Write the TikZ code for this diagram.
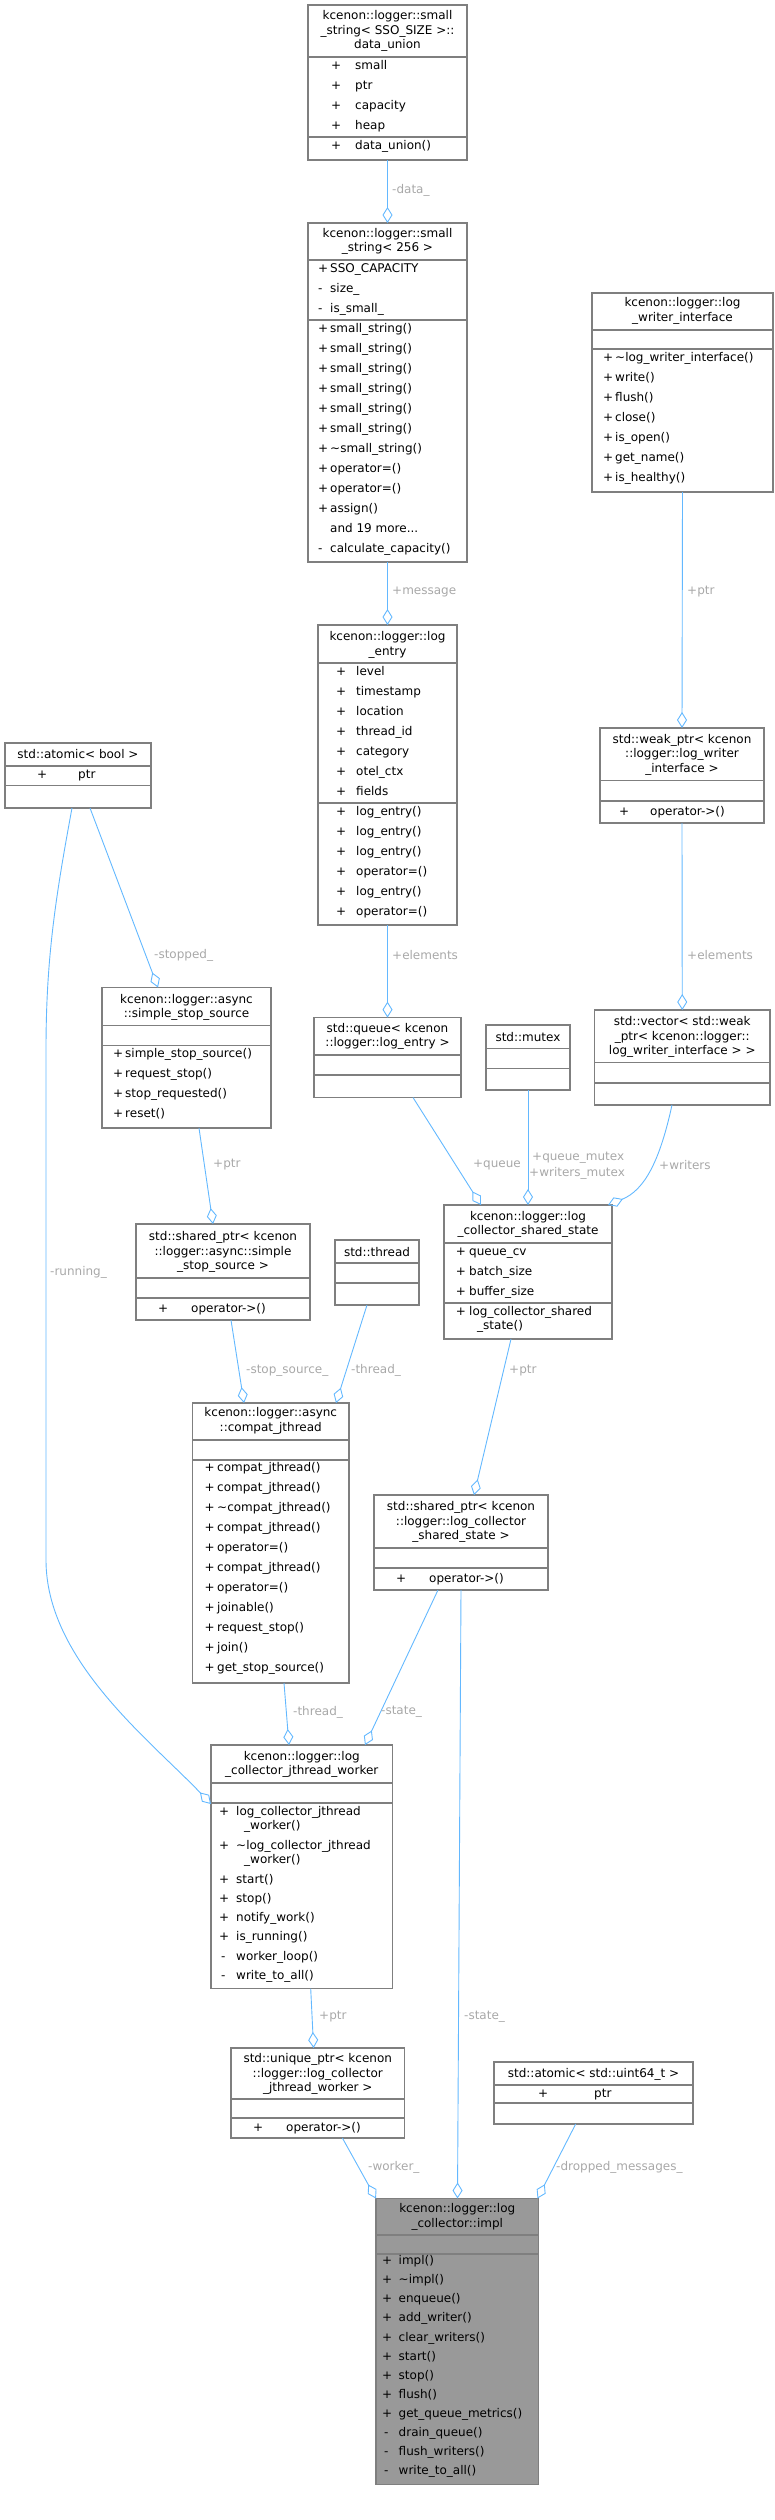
\documentclass[tikz,border=0pt]{standalone}
\usepackage{fontspec}
\setmainfont{DejaVu Sans}
\usetikzlibrary{arrows.meta}
\definecolor{edgec}{HTML}{63B8FF}
\definecolor{labc}{HTML}{A8A8A8}
\definecolor{boxc}{HTML}{7F7F7F}
\newcounter{mc}
\newcommand\fnt{\fontsize{12}{14.5}\selectfont}
\newcommand\bx[6]{\node[box,fill=#6,anchor=north west,minimum width={#4pt-#2pt},minimum height={#5pt-#3pt}] (#1) at (#2,#3) {};}
\newcommand\hs[3]{\draw[boxl] (#1,#3) -- (#2,#3);}
\newcommand\mem[5]{\stepcounter{mc}\node[t] (p\themc) at (#1,#3) {#4};\node[t] (m\themc) at (#2,#3) {#5};}
\newcommand\ttl[4]{\node[ti] (#1) at (#2,#3) {#4};}
\begin{document}
\begin{tikzpicture}[x=1pt,y=-1pt,
 box/.style={draw=boxc,line width=1.1pt,inner sep=0pt,outer sep=0pt},
 boxl/.style={draw=boxc,line width=1.1pt},
 t/.style={anchor=west,inner sep=0pt,font=\fnt,text height=8.5pt,text depth=2.5pt},
 ti/.style={align=center,inner sep=0pt,font=\fnt},
 edge/.style={draw=edgec,line width=0.9pt,-{Diamond[open,length=16pt,width=10pt]}},
 lab/.style={anchor=west,inner sep=0pt,font=\fnt,text=labc}]
\useasboundingbox (0,0) rectangle (775,2520);
% A
\bx{A}{308}{5}{467}{160}{white}
\ttl{Aт}{387.5}{31}{kcenon::logger::small\\\_string< SSO\_SIZE >::\\data\_union}
\hs{308}{467}{57}\hs{308}{467}{137}
\mem{331}{355}{66}{+}{small}\mem{331}{355}{86}{+}{ptr}\mem{331}{355}{106}{+}{capacity}\mem{331}{355}{126}{+}{heap}
\mem{331}{355}{146}{+}{data\_union()}
% B
\bx{B}{308}{223}{467}{562}{white}
\ttl{Bt}{387.5}{241.5}{kcenon::logger::small\\\_string< 256 >}
\hs{308}{467}{260}\hs{308}{467}{320}
\mem{318}{330}{269.5}{+}{SSO\_CAPACITY}\mem{318}{330}{289}{-}{size\_}\mem{318}{330}{309}{-}{is\_small\_}
\mem{318}{330}{329}{+}{small\_string()}\mem{318}{330}{349}{+}{small\_string()}\mem{318}{330}{369}{+}{small\_string()}
\mem{318}{330}{389}{+}{small\_string()}\mem{318}{330}{409}{+}{small\_string()}\mem{318}{330}{429}{+}{small\_string()}
\mem{318}{330}{449}{+}{\textasciitilde small\_string()}\mem{318}{330}{469}{+}{operator=()}\mem{318}{330}{489}{+}{operator=()}
\mem{318}{330}{509}{+}{assign()}\mem{318}{330}{529}{}{and 19 more...}\mem{318}{330}{549}{-}{calculate\_capacity()}
% C
\bx{C}{592}{293}{773}{492}{white}
\ttl{Ct}{682.5}{311}{kcenon::logger::log\\\_writer\_interface}
\hs{592}{773}{330}\hs{592}{773}{349}
\mem{603}{615}{358}{+}{\textasciitilde log\_writer\_interface()}\mem{603}{615}{378}{+}{write()}\mem{603}{615}{398}{+}{flush()}
\mem{603}{615}{418}{+}{close()}\mem{603}{615}{438}{+}{is\_open()}\mem{603}{615}{458}{+}{get\_name()}\mem{603}{615}{478}{+}{is\_healthy()}
% D
\bx{D}{318}{625}{457}{925}{white}
\ttl{Dt}{387.5}{645}{kcenon::logger::log\\\_entry}
\hs{318}{457}{663}\hs{318}{457}{803}
\mem{336}{356}{672}{+}{level}\mem{336}{356}{692}{+}{timestamp}\mem{336}{356}{712}{+}{location}\mem{336}{356}{732}{+}{thread\_id}
\mem{336}{356}{752}{+}{category}\mem{336}{356}{772}{+}{otel\_ctx}\mem{336}{356}{792}{+}{fields}
\mem{336}{356}{812}{+}{log\_entry()}\mem{336}{356}{832}{+}{log\_entry()}\mem{336}{356}{852}{+}{log\_entry()}
\mem{336}{356}{872}{+}{operator=()}\mem{336}{356}{892}{+}{log\_entry()}\mem{336}{356}{912}{+}{operator=()}
% E
\bx{E}{5}{743}{151}{808}{white}
\ttl{Et}{78}{754.5}{std::atomic< bool >}
\hs{5}{151}{766}\hs{5}{151}{785.5}
\mem{37}{78}{775.5}{+}{ptr}
% F
\bx{F}{600}{728}{764}{823}{white}
\ttl{Ft}{682}{754.5}{std::weak\_ptr< kcenon\\::logger::log\_writer\\\_interface >}
\hs{600}{764}{780.5}\hs{600}{764}{801}
\mem{619}{650}{812}{+}{operator->()}
% G
\bx{G}{102}{987.5}{271}{1128}{white}
\ttl{Gt}{186.5}{1007.5}{kcenon::logger::async\\::simple\_stop\_source}
\hs{102}{271}{1025.6}\hs{102}{271}{1045.7}
\mem{113}{125}{1054.5}{+}{simple\_stop\_source()}\mem{113}{125}{1074.6}{+}{request\_stop()}
\mem{113}{125}{1094.7}{+}{stop\_requested()}\mem{113}{125}{1114.4}{+}{reset()}
% H
\bx{H}{314}{1017.6}{461}{1097.5}{white}
\ttl{Ht}{387.5}{1036.5}{std::queue< kcenon\\::logger::log\_entry >}
\hs{314}{461}{1055}\hs{314}{461}{1075}
% I
\bx{I}{486}{1025}{570}{1090}{white}
\ttl{It}{528}{1037}{std::mutex}
\hs{486}{570}{1048.5}\hs{486}{570}{1068.6}
% J
\bx{J}{594.5}{1010}{770}{1105}{white}
\ttl{Jt}{682.25}{1037}{std::vector< std::weak\\\_ptr< kcenon::logger::\\log\_writer\_interface > >}
\hs{594.5}{770}{1062.6}\hs{594.5}{770}{1083}
% K
\bx{K}{444}{1205}{612}{1339}{white}
\ttl{Kt}{528}{1224.5}{kcenon::logger::log\\\_collector\_shared\_state}
\hs{444}{612}{1243}\hs{444}{612}{1303}
\mem{455.6}{469}{1252}{+}{queue\_cv}\mem{455.6}{469}{1272}{+}{batch\_size}\mem{455.6}{469}{1292}{+}{buffer\_size}
\mem{455.6}{469}{1312}{+}{log\_collector\_shared}\mem{455.6}{477}{1326}{}{\_state()}
% L
\bx{L}{136}{1224}{310}{1320}{white}
\ttl{Lt}{223}{1252}{std::shared\_ptr< kcenon\\::logger::async::simple\\\_stop\_source >}
\hs{136}{310}{1278}\hs{136}{310}{1298}
\mem{158}{191}{1309}{+}{operator->()}
% M
\bx{M}{335}{1240}{419}{1305}{white}
\ttl{Mt}{377}{1252}{std::thread}
\hs{335}{419}{1263}\hs{335}{419}{1283}
% N
\bx{N}{192.5}{1403}{349}{1683}{white}
\ttl{Nt}{270.75}{1421}{kcenon::logger::async\\::compat\_jthread}
\hs{192.5}{349}{1440}\hs{192.5}{349}{1460}
\mem{204.5}{217}{1468.5}{+}{compat\_jthread()}\mem{204.5}{217}{1488.5}{+}{compat\_jthread()}
\mem{204.5}{217}{1508.5}{+}{\textasciitilde compat\_jthread()}\mem{204.5}{217}{1528.5}{+}{compat\_jthread()}
\mem{204.5}{217}{1548.5}{+}{operator=()}\mem{204.5}{217}{1568.5}{+}{compat\_jthread()}
\mem{204.5}{217}{1588.5}{+}{operator=()}\mem{204.5}{217}{1608.5}{+}{joinable()}
\mem{204.5}{217}{1628.5}{+}{request\_stop()}\mem{204.5}{217}{1648.5}{+}{join()}\mem{204.5}{217}{1668.5}{+}{get\_stop\_source()}
% O
\bx{O}{374}{1495}{548}{1590}{white}
\ttl{Ot}{461}{1522}{std::shared\_ptr< kcenon\\::logger::log\_collector\\\_shared\_state >}
\hs{374}{548}{1548}\hs{374}{548}{1568}
\mem{396}{429}{1579}{+}{operator->()}
% P
\bx{P}{211}{1745}{392.5}{1988.5}{white}
\ttl{Pt}{301.75}{1764.5}{kcenon::logger::log\\\_collector\_jthread\_worker}
\hs{211}{392.5}{1783}\hs{211}{392.5}{1803}
\mem{219}{236}{1812}{+}{log\_collector\_jthread}\mem{219}{244}{1826}{}{\_worker()}
\mem{219}{236}{1846}{+}{\textasciitilde log\_collector\_jthread}\mem{219}{244}{1860.5}{}{\_worker()}
\mem{219}{236}{1880}{+}{start()}\mem{219}{236}{1899}{+}{stop()}\mem{219}{236}{1918}{+}{notify\_work()}
\mem{219}{236}{1937.5}{+}{is\_running()}\mem{221}{236}{1957}{-}{worker\_loop()}\mem{221}{236}{1976}{-}{write\_to\_all()}
% Q
\bx{Q}{231}{2048}{404.5}{2138}{white}
\ttl{Qt}{317.75}{2074}{std::unique\_ptr< kcenon\\::logger::log\_collector\\\_jthread\_worker >}
\hs{231}{404.5}{2099}\hs{231}{404.5}{2118}
\mem{253}{286}{2128.5}{+}{operator->()}
% R
\bx{R}{494}{2062}{693}{2124}{white}
\ttl{Rt}{593.5}{2074}{std::atomic< std::uint64\_t >}
\hs{494}{693}{2085}\hs{494}{693}{2103}
\mem{538}{594}{2094}{+}{ptr}
% S
\bx{S}{376}{2198.5}{538.5}{2484.5}{black!40}
\ttl{St}{457.25}{2217}{kcenon::logger::log\\\_collector::impl}
\hs{376}{538.5}{2235}\hs{376}{538.5}{2254}
\mem{382}{398.5}{2261.6}{+}{impl()}\mem{382}{398.5}{2280.7}{+}{\textasciitilde impl()}\mem{382}{398.5}{2299.8}{+}{enqueue()}
\mem{382}{398.5}{2318.9}{+}{add\_writer()}\mem{382}{398.5}{2338}{+}{clear\_writers()}\mem{382}{398.5}{2357.1}{+}{start()}
\mem{382}{398.5}{2376.2}{+}{stop()}\mem{382}{398.5}{2395.3}{+}{flush()}\mem{382}{398.5}{2414.4}{+}{get\_queue\_metrics()}
\mem{384}{398.5}{2433.5}{-}{drain\_queue()}\mem{384}{398.5}{2452.6}{-}{flush\_writers()}\mem{384}{398.5}{2471.7}{-}{write\_to\_all()}
% edges
\draw[edge] (A.south) -- (B.north);
\node[lab] (l1) at (392,190) {-data\_};
\draw[edge] (B.south) -- (D.north);
\node[lab] (l2) at (392,592) {+message};
\draw[edge] (C.south) -- (F.north);
\node[lab] (l3) at (687,592) {+ptr};
\draw[edge] (D.south) -- (H.north);
\node[lab] (l4) at (392,955) {+elements};
\draw[edge] (F.south) -- (J.north);
\node[lab] (l5) at (687,955) {+elements};
\draw[edge] ([xshift=85pt]E.south west) -- ([xshift=56pt]G.north west);
\node[lab] (l6) at (154,955) {-stopped\_};
\draw[edge] ([xshift=67pt]E.south west) .. controls (55,900) and (46,960) .. (46,1050) -- (46,1560) .. controls (46,1660) and (150,1740) .. ([yshift=-59pt]P.north west);
\node[lab] (l7) at (50,1272) {-running\_};
\draw[edge] ([xshift=97pt]G.south west) -- ([xshift=77pt]L.north west);
\node[lab] (l8) at (213,1165) {+ptr};
\draw[edge] ([xshift=99pt]H.south west) -- ([xshift=37pt]K.north west);
\node[lab,anchor=east] (l9) at (521,1165) {+queue};
\draw[edge] (I.south) -- (K.north);
\node[lab] (l10) at (532,1158) {+queue\_mutex};
\node[lab] (l11) at (529,1173) {+writers\_mutex};
\draw[edge] ([xshift=77.5pt]J.south west) .. controls (660,1160) and (645,1190) .. ([xshift=-4pt]K.north east);
\node[lab] (l12) at (659,1165) {+writers};
\draw[edge] ([xshift=95pt]L.south west) -- ([xshift=51.5pt]N.north west);
\node[lab] (l13) at (246,1370.5) {-stop\_source\_};
\draw[edge] ([xshift=32pt]M.south west) -- ([xshift=143.5pt]N.north west);
\node[lab] (l14) at (351,1370.5) {-thread\_};
\draw[edge] ([xshift=67pt]K.south west) -- ([xshift=100pt]O.north west);
\node[lab] (l15) at (509,1370.5) {+ptr};
\draw[edge] ([xshift=91.5pt]N.south west) -- ([xshift=78pt]P.north west);
\node[lab] (l16) at (293,1712) {-thread\_};
\draw[edge] ([xshift=64pt]O.south west) -- ([xshift=154pt]P.north west);
\node[lab] (l17) at (381,1712) {-state\_};
\draw[edge] ([xshift=99.7pt]P.south west) -- ([xshift=82.6pt]Q.north west);
\node[lab] (l18) at (319,2017) {+ptr};
\draw[edge] ([xshift=87pt]O.south west) -- ([xshift=81.5pt]S.north west);
\node[lab] (l19) at (464,2017) {-state\_};
\draw[edge] ([xshift=111.4pt]Q.south west) -- (S.north west);
\node[lab] (l20) at (368,2167.6) {-worker\_};
\draw[edge] ([xshift=81.7pt]R.south west) -- ([xshift=-1pt]S.north east);
\node[lab] (l21) at (556,2167.6) {-dropped\_messages\_};
\end{tikzpicture}
\end{document}
